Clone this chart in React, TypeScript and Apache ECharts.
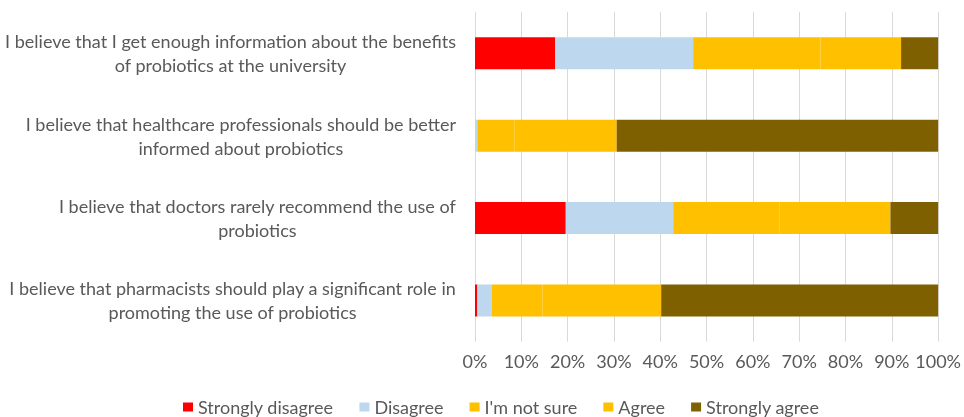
import React, { useEffect, useRef } from "react";
import * as echarts from "echarts";

const categories: string[][] = [
  ["I believe that I get enough information about the benefits", "of probiotics at the university"],
  ["I believe that healthcare professionals should be better", "informed about probiotics"],
  ["I believe that doctors rarely recommend the use of", "probiotics"],
  ["I believe that pharmacists should play a significant role in", "promoting the use of probiotics"],
];

const seriesNames = ["Strongly disagree", "Disagree", "I'm not sure", "Agree", "Strongly agree"];
const stronglyDisagree = [17.3, 0, 19.6, 0.5];
const disagree = [29.8, 0.5, 23.2, 3.1];
const notSure = [27.5, 8.0, 22.9, 11.0];
const agree = [17.4, 22.1, 24.0, 25.6];
const stronglyAgree = [8.0, 69.4, 10.3, 59.8];
const colors = ["#FF0000", "#BDD7EE", "#FFC000", "#FFC000", "#7F6000"];

const FONT = "Lato, 'Liberation Sans', sans-serif";
const TEXT = "#595959";

export default function App() {
  const ref = useRef<HTMLDivElement>(null);
  useEffect(() => {
    if (!ref.current) return;
    const chart = echarts.init(ref.current, null, { renderer: "svg" });
    const data = [stronglyDisagree, disagree, notSure, agree, stronglyAgree];
    chart.setOption({
      animation: false,
      textStyle: { fontFamily: FONT },
      grid: { left: 475, right: 20.5, top: 12, bottom: 75.3, containLabel: false },
      legend: {
        data: seriesNames,
        top: 396,
        left: 183,
        padding: 0,
        icon: "rect",
        itemWidth: 10,
        itemHeight: 9,
        itemGap: 26,
        textStyle: { color: TEXT, fontSize: 18, fontFamily: FONT, lineHeight: 22 },
      },
      xAxis: {
        type: "value",
        min: 0,
        max: 100,
        interval: 10,
        axisLine: { show: false },
        axisTick: { show: false },
        splitLine: { lineStyle: { color: "#D9D9D9", width: 1 } },
        axisLabel: {
          formatter: (v: number) => v + "%",
          color: TEXT,
          fontSize: 18,
          fontFamily: FONT,
          margin: 10,
        },
      },
      yAxis: {
        type: "category",
        inverse: true,
        data: categories.map((c) => c.join("\n")),
        axisLine: { show: false },
        axisTick: { show: false },
        axisLabel: {
          margin: 19,
          formatter: (v: string) => v.split("\n").map((l) => "{c|" + l + "}").join("\n"),
          rich: {
            c: { align: "center", color: TEXT, fontSize: 18, fontFamily: FONT, lineHeight: 24 },
          },
        },
      },
      series: seriesNames.map((name, i) => ({
        name,
        type: "bar",
        stack: "total",
        barWidth: 32,
        data: data[i],
        itemStyle: { color: colors[i] },
      })),
    });
    return () => chart.dispose();
  }, []);
  return <div ref={ref} style={{ position: "fixed", left: 0, top: 0, width: 964, height: 417 }} />;
}
